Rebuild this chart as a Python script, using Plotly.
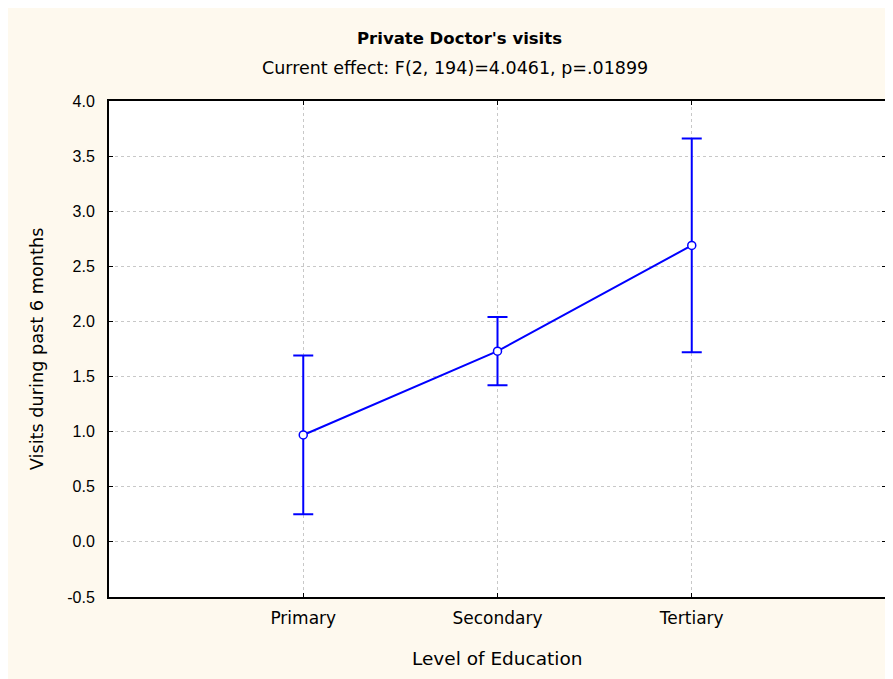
import plotly.graph_objects as go

categories = ["Primary", "Secondary", "Tertiary"]
means = [0.97, 1.73, 2.69]
ci_upper = [1.69, 2.04, 3.66]
ci_lower = [0.25, 1.42, 1.72]
y_ticks = [-0.5, 0.0, 0.5, 1.0, 1.5, 2.0, 2.5, 3.0, 3.5, 4.0]
y_tick_text = ["-0.5", "0.0", "0.5", "1.0", "1.5", "2.0", "2.5", "3.0", "3.5", "4.0"]

err_plus = [u - m for u, m in zip(ci_upper, means)]
err_minus = [m - l for m, l in zip(means, ci_lower)]

NUMFONT = "Liberation Sans, Arial, sans-serif"
TXTFONT = "DejaVu Sans, Verdana, sans-serif"
BLUE = "#0000FF"
CREAM = "#FEF9EE"

PW, PH = 779, 496  # plot area size in px

fig = go.Figure()
fig.add_trace(go.Scatter(
    x=[0, 1, 2], y=means, mode="lines+markers",
    line=dict(color=BLUE, width=2),
    marker=dict(size=8, color="white", line=dict(color=BLUE, width=1.5)),
    error_y=dict(type="data", symmetric=False, array=err_plus, arrayminus=err_minus,
                 color=BLUE, thickness=2, width=10),
    showlegend=False,
))

fig.update_layout(
    width=882, height=671,
    margin=dict(l=101, r=2, t=93, b=82),
    paper_bgcolor=CREAM,
    plot_bgcolor="white",
    font=dict(family=NUMFONT, size=16, color="black"),
    annotations=[
        dict(text="<b>Private Doctor's visits</b>", xref="paper", yref="paper",
             x=(460 - 109) / PW, y=1 + 63 / PH, xanchor="center", yanchor="middle", showarrow=False,
             font=dict(family=TXTFONT, size=16.5, color="black")),
        dict(text="Current effect: F(2, 194)=4.0461, p=.01899", xref="paper", yref="paper",
             x=(455.5 - 109) / PW, y=1 + 33 / PH, xanchor="center", yanchor="middle", showarrow=False,
             font=dict(family=TXTFONT, size=17.5, color="black")),
        dict(text="Level of Education", xref="paper", yref="paper",
             x=0.5, y=-61 / PH, xanchor="center", yanchor="middle", showarrow=False,
             font=dict(family=TXTFONT, size=18.5, color="black")),
        dict(text="Visits during past 6 months", xref="paper", yref="paper",
             x=-72 / PW, y=0.5, xanchor="center", yanchor="middle", showarrow=False,
             textangle=-90, font=dict(family=TXTFONT, size=17.7, color="black")),
    ],
    xaxis=dict(
        range=[-1, 3], tickvals=[0, 1, 2], ticktext=categories,
        tickfont=dict(family=TXTFONT, size=17),
        showgrid=True, gridcolor="#c8c8c8", griddash="dot", gridwidth=1,
        showline=True, linecolor="black", linewidth=2, mirror="ticks",
        ticks="inside", ticklen=4, tickcolor="black", tickwidth=1,
        zeroline=False, ticklabelstandoff=5,
    ),
    yaxis=dict(
        range=[-0.5, 4.0], tickvals=y_ticks, ticktext=y_tick_text,
        tickfont=dict(family=NUMFONT, size=16),
        showgrid=True, gridcolor="#c8c8c8", griddash="dot", gridwidth=1,
        showline=True, linecolor="black", linewidth=2, mirror="ticks",
        ticks="inside", ticklen=4, tickcolor="black", tickwidth=1,
        zeroline=False, ticklabelstandoff=9,
    ),
)

fig.write_html("out.html")
